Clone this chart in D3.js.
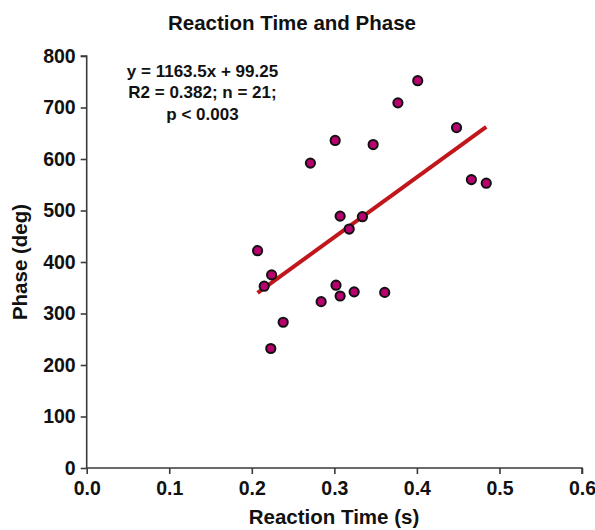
<!DOCTYPE html>
<html>
<head>
<meta charset="utf-8">
<script src="https://cdn.jsdelivr.net/npm/d3@7"></script>
<style>
  html, body { margin: 0; padding: 0; background: #fff; }
  svg { display: block; }
  text { font-family: "Liberation Sans", Arial, sans-serif; font-weight: bold; fill: #111; }
</style>
</head>
<body>
<svg id="chart" width="595" height="530"></svg>
<script>
// Data
const reactionTime = [0.207, 0.215, 0.224, 0.223, 0.238, 0.284, 0.302, 0.307, 0.324, 0.361,
                      0.271, 0.301, 0.347, 0.377, 0.401, 0.448, 0.466, 0.484, 0.307, 0.334, 0.318];
const phase =        [422, 353, 375, 232, 283, 323, 355, 334, 342, 341,
                      592, 636, 628, 709, 752, 661, 560, 553, 489, 488, 464];
const xTicks = [0.0, 0.1, 0.2, 0.3, 0.4, 0.5, 0.6];
const yTicks = [0, 100, 200, 300, 400, 500, 600, 700, 800];
const fitSlope = 1163.5;
const fitIntercept = 99.25;
const annotation = ["y = 1163.5x + 99.25", "R2 = 0.382; n = 21;", "p < 0.003"];
const titleText = "Reaction Time and Phase";
const xTitle = "Reaction Time (s)";
const yTitle = "Phase (deg)";

const svg = d3.select("#chart");
const x = d3.scaleLinear().domain([0, 0.6]).range([86.7, 582]);
const y = d3.scaleLinear().domain([0, 800]).range([468, 56]);

const axisColor = "#3a3a3a";

// X axis
const gx = svg.append("g").attr("transform", `translate(0,${y(0)})`)
  .call(d3.axisBottom(x).tickValues(xTicks).tickFormat(d3.format(".1f")).tickSize(6).tickPadding(7));
// Y axis
const gy = svg.append("g").attr("transform", `translate(${x(0)},0)`)
  .call(d3.axisLeft(y).tickValues(yTicks).tickFormat(d3.format("d")).tickSize(6).tickPadding(5));

[gx, gy].forEach(g => {
  g.select(".domain").attr("stroke", axisColor).attr("stroke-width", 1.6);
  g.selectAll(".tick line").attr("stroke", axisColor).attr("stroke-width", 1.6);
  g.selectAll(".tick text").attr("font-size", 19.5).attr("font-weight", "bold")
    .attr("font-family", "Liberation Sans, Arial, sans-serif").attr("fill", "#111");
});
gx.select(".domain").attr("d", `M${x(0)},0H${x(0.6)}V6`);
gy.select(".domain").attr("d", `M0,${y(0)}V${y(800)}H-6`);

// Regression line
const xMin = d3.min(reactionTime), xMax = d3.max(reactionTime);
svg.append("line")
  .attr("x1", x(xMin)).attr("y1", y(fitSlope * xMin + fitIntercept))
  .attr("x2", x(xMax)).attr("y2", y(fitSlope * xMax + fitIntercept))
  .attr("stroke", "#c0161c").attr("stroke-width", 4);

// Points
svg.append("g").selectAll("circle")
  .data(reactionTime.map((d, i) => [d, phase[i]]))
  .join("circle")
  .attr("cx", d => x(d[0])).attr("cy", d => y(d[1]))
  .attr("r", 4.6)
  .attr("fill", "#b8006f").attr("stroke", "#111").attr("stroke-width", 2);

// Title
svg.append("text").attr("x", 292).attr("y", 30).attr("text-anchor", "middle")
  .attr("font-size", 20.5).text(titleText);

// Annotation
svg.append("g").selectAll("text").data(annotation).join("text")
  .attr("x", 202.5).attr("y", (d, i) => 76.5 + i * 21.7)
  .attr("text-anchor", "middle").attr("font-size", 17)
  .text(d => d);

// Axis titles
svg.append("text").attr("x", 334).attr("y", 524).attr("text-anchor", "middle")
  .attr("font-size", 20.5).text(xTitle);
svg.append("text").attr("transform", `translate(27,${(y(0) + y(800)) / 2}) rotate(-90)`)
  .attr("text-anchor", "middle").attr("font-size", 20.5).text(yTitle);
</script>
</body>
</html>
